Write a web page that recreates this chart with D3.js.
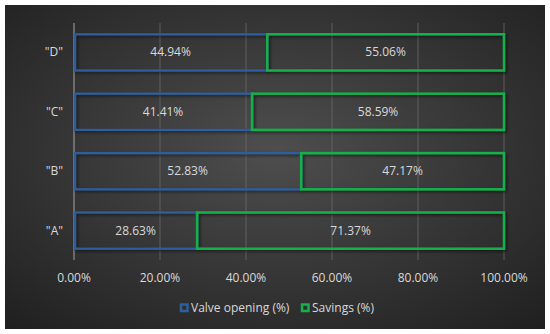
<!DOCTYPE html>
<html>
<head>
<meta charset="utf-8">
<script src="https://cdn.jsdelivr.net/npm/d3@7"></script>
<style>
  body { margin: 0; background: #fff; }
  text { font-family: "Open Sans", "Noto Sans", sans-serif; }
</style>
</head>
<body>
<script>
"use strict";

const categories = ["\"A\"", "\"B\"", "\"C\"", "\"D\""];
const valveOpening = [28.63, 52.83, 41.41, 44.94];
const savings = [71.37, 47.17, 58.59, 55.06];
const tickValues = [0, 20, 40, 60, 80, 100];
const seriesNames = ["Valve opening (%)", "Savings (%)"];
const seriesColors = ["#2f5f9c", "#14b04c"];

const m = { width: 550, height: 334 };

const svg = d3
  .select("body")
  .append("svg")
  .attr("width", m.width)
  .attr("height", m.height);

const defs = svg.append("defs");
const grad = defs
  .append("radialGradient")
  .attr("id", "bg")
  .attr("cx", "50%")
  .attr("cy", "45%")
  .attr("r", "75%");
grad.append("stop").attr("offset", "0%").attr("stop-color", "#4e4e4e");
grad.append("stop").attr("offset", "100%").attr("stop-color", "#1f1f1f");

const shadow = defs.append("filter").attr("id", "sh").attr("x", "-10%").attr("y", "-30%").attr("width", "120%").attr("height", "160%");
shadow.append("feDropShadow").attr("dx", 1.5).attr("dy", 1.5).attr("stdDeviation", 1.5).attr("flood-color", "#000").attr("flood-opacity", 0.6);

svg.append("rect")
  .attr("x", 5).attr("y", 5)
  .attr("width", 540).attr("height", 324)
  .attr("fill", "url(#bg)");

const x = d3.scaleLinear().domain([0, 100]).range([74, 504]);
const y = d3.scaleBand().domain(categories.slice().reverse()).range([23, 260]).paddingInner(0.39).paddingOuter(0.19);

// gridlines
svg.append("g")
  .selectAll("line")
  .data(tickValues.slice(1))
  .enter()
  .append("line")
  .attr("x1", d => x(d)).attr("x2", d => x(d))
  .attr("y1", 23).attr("y2", 260)
  .attr("stroke", "#6a6a6a")
  .attr("stroke-width", 0.8);

// vertical axis line
svg.append("line")
  .attr("x1", x(0)).attr("x2", x(0))
  .attr("y1", 23).attr("y2", 260)
  .attr("stroke", "#a6a6a6")
  .attr("stroke-width", 1);

const rows = categories.map((c, i) => ({ cat: c, a: valveOpening[i], b: savings[i] }));

const bars = svg.append("g").attr("filter", "url(#sh)");

bars.selectAll("rect.valve")
  .data(rows)
  .enter()
  .append("rect")
  .attr("class", "valve")
  .attr("x", d => x(0) + 1)
  .attr("y", d => y(d.cat))
  .attr("width", d => x(d.a) - x(0) - 1)
  .attr("height", y.bandwidth())
  .attr("fill", "none")
  .attr("stroke", seriesColors[0])
  .attr("stroke-width", 2.2);

bars.selectAll("rect.sav")
  .data(rows)
  .enter()
  .append("rect")
  .attr("class", "sav")
  .attr("x", d => x(d.a))
  .attr("y", d => y(d.cat))
  .attr("width", d => x(d.a + d.b) - x(d.a))
  .attr("height", y.bandwidth())
  .attr("fill", "none")
  .attr("stroke", seriesColors[1])
  .attr("stroke-width", 2.5);

const labels = svg.append("g").attr("fill", "#d9d9d9").attr("font-size", 12).attr("text-anchor", "middle");

labels.selectAll("text.la")
  .data(rows)
  .enter()
  .append("text")
  .attr("x", d => x(d.a / 2))
  .attr("y", d => y(d.cat) + y.bandwidth() / 2 + 4)
  .text(d => d.a.toFixed(2) + "%");

labels.selectAll("text.lb")
  .data(rows)
  .enter()
  .append("text")
  .attr("x", d => x(d.a + d.b / 2))
  .attr("y", d => y(d.cat) + y.bandwidth() / 2 + 4)
  .text(d => d.b.toFixed(2) + "%");

// category axis labels
svg.append("g")
  .selectAll("text")
  .data(categories)
  .enter()
  .append("text")
  .attr("x", 63)
  .attr("y", d => y(d) + y.bandwidth() / 2 + 4)
  .attr("text-anchor", "end")
  .attr("fill", "#d9d9d9")
  .attr("font-size", 12)
  .text(d => d);

// x tick labels
svg.append("g")
  .selectAll("text")
  .data(tickValues)
  .enter()
  .append("text")
  .attr("x", d => x(d))
  .attr("y", 282)
  .attr("text-anchor", "middle")
  .attr("fill", "#d9d9d9")
  .attr("font-size", 12)
  .text(d => d.toFixed(2) + "%");

// legend
const legendX = [180, 301];
const legend = svg.append("g");
legend.selectAll("rect")
  .data(seriesNames)
  .enter()
  .append("rect")
  .attr("x", (d, i) => legendX[i] + 1)
  .attr("y", 304.5)
  .attr("width", 6.5)
  .attr("height", 6.5)
  .attr("fill", "none")
  .attr("stroke", (d, i) => seriesColors[i])
  .attr("stroke-width", 2.5);
legend.selectAll("text")
  .data(seriesNames)
  .enter()
  .append("text")
  .attr("x", (d, i) => legendX[i] + 11)
  .attr("y", 312)
  .attr("fill", "#d9d9d9")
  .attr("font-size", 12)
  .text(d => d);
</script>
</body>
</html>
